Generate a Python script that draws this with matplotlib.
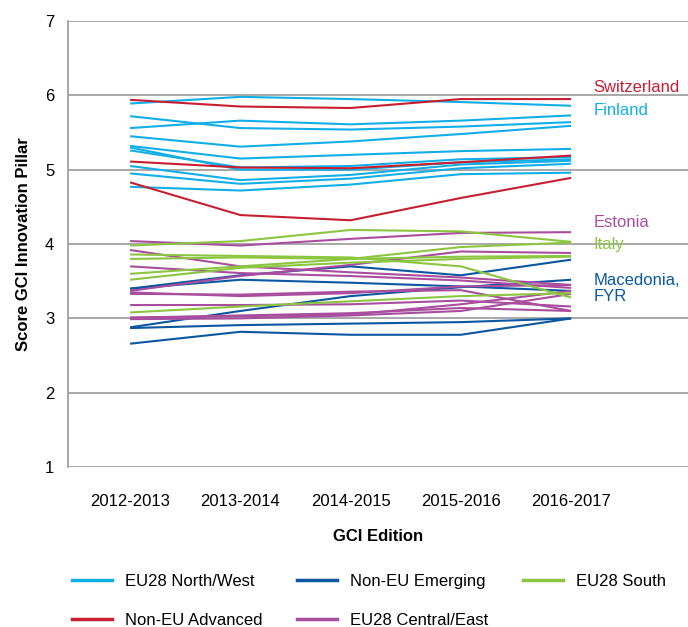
import matplotlib
matplotlib.use('Agg')
import matplotlib.pyplot as plt
from matplotlib.lines import Line2D

plt.rcParams['font.family'] = ['Liberation Sans', 'DejaVu Sans']

editions = ['2012-2013', '2013-2014', '2014-2015', '2015-2016', '2016-2017']

# EU28 North/West (Finland first)
north_west = [
    [5.89, 5.98, 5.95, 5.91, 5.86],
    [5.72, 5.56, 5.54, 5.58, 5.64],
    [5.56, 5.66, 5.61, 5.66, 5.73],
    [5.45, 5.31, 5.38, 5.48, 5.59],
    [5.32, 5.15, 5.20, 5.25, 5.28],
    [5.26, 5.03, 5.05, 5.14, 5.17],
    [5.30, 5.00, 5.00, 5.10, 5.14],
    [5.05, 4.86, 4.93, 5.07, 5.12],
    [4.95, 4.81, 4.88, 5.02, 5.08],
    [4.77, 4.72, 4.80, 4.94, 4.96],
]
# Non-EU Advanced (Switzerland, Norway, Iceland)
non_eu_advanced = [
    [5.94, 5.85, 5.83, 5.95, 5.95],
    [5.11, 5.03, 5.02, 5.10, 5.19],
    [4.83, 4.39, 4.32, 4.62, 4.89],
]
# Non-EU Emerging (Macedonia second)
non_eu_emerging = [
    [3.40, 3.58, 3.70, 3.58, 3.79],
    [3.40, 3.52, 3.48, 3.43, 3.37],
    [2.88, 3.10, 3.30, 3.42, 3.52],
    [2.87, 2.91, 2.93, 2.95, 3.00],
    [2.66, 2.82, 2.78, 2.78, 3.00],
]
# EU28 South (Italy first)
south = [
    [3.98, 4.04, 4.19, 4.17, 4.03],
    [3.86, 3.84, 3.82, 3.70, 3.28],
    [3.80, 3.82, 3.80, 3.96, 4.02],
    [3.60, 3.70, 3.80, 3.83, 3.84],
    [3.52, 3.68, 3.75, 3.80, 3.83],
    [3.08, 3.16, 3.23, 3.30, 3.34],
]
# EU28 Central/East (Estonia first)
central_east = [
    [4.04, 3.98, 4.07, 4.15, 4.16],
    [3.92, 3.70, 3.62, 3.55, 3.45],
    [3.70, 3.61, 3.57, 3.51, 3.41],
    [3.35, 3.30, 3.34, 3.43, 3.45],
    [3.37, 3.57, 3.72, 3.90, 3.88],
    [3.18, 3.18, 3.19, 3.24, 3.16],
    [3.01, 3.03, 3.05, 3.19, 3.37],
    [3.01, 3.04, 3.07, 3.14, 3.10],
    [3.33, 3.32, 3.36, 3.38, 3.10],
    [2.99, 3.00, 3.04, 3.10, 3.33],
]

groups = [
    ('EU28 North/West', north_west, '#12aee8'),
    ('Non-EU Advanced', non_eu_advanced, '#c71f30'),
    ('Non-EU Emerging', non_eu_emerging, '#0b57a0'),
    ('EU28 Central/East', central_east, '#a94e9f'),
    ('EU28 South', south, '#8cc641'),
]

fig = plt.figure(figsize=(6.88, 6.27), dpi=100)
ax = fig.add_axes([0.099, 0.255, 0.901, 0.7115])

x = list(range(len(editions)))
for name, rows, color in groups:
    for row in rows:
        ax.plot(x, row, color=color, lw=1.5, solid_capstyle='butt')

ax.set_xlim(-0.562, 5.06)
ax.set_ylim(1, 7)
ax.set_yticks(range(1, 8))
ax.set_xticks(x)
ax.set_xticklabels(editions, fontsize=12)
ax.tick_params(axis='x', length=0, pad=19)
ax.tick_params(axis='y', length=0, pad=10, labelsize=12)
ax.grid(axis='y', color='#999999', lw=1.2)
ax.set_axisbelow(True)
for side in ['top', 'right', 'bottom']:
    ax.spines[side].set_visible(False)
ax.spines['left'].set_color('#999999')
ax.spines['left'].set_linewidth(1.2)

ax.set_xlabel('GCI Edition', fontsize=12, fontweight='bold', labelpad=15)
ax.set_ylabel('Score GCI Innovation Pillar', fontsize=12, fontweight='bold', labelpad=10)

labels = [
    ('Switzerland', 6.10, '#c71f30'),
    ('Finland', 5.80, '#12aee8'),
    ('Estonia', 4.29, '#a94e9f'),
    ('Italy', 3.99, '#8cc641'),
    ('Macedonia,\nFYR', 3.40, '#0b57a0'),
]
for text, yv, color in labels:
    ax.text(4.2, yv, text, color=color, fontsize=12, va='center', ha='left',
            linespacing=1.1)

handles = [Line2D([], [], color=c, lw=2.5) for _, _, c in groups]
names = [n for n, _, _ in groups]
fig.legend(handles, names, loc='upper left', bbox_to_anchor=(0.1047, 0.085), ncol=3,
           frameon=False, fontsize=12, handlelength=2.4, handletextpad=0.8,
           columnspacing=2.05, labelspacing=1.45, borderpad=0, borderaxespad=0)

fig.savefig('out.png', dpi=100)
